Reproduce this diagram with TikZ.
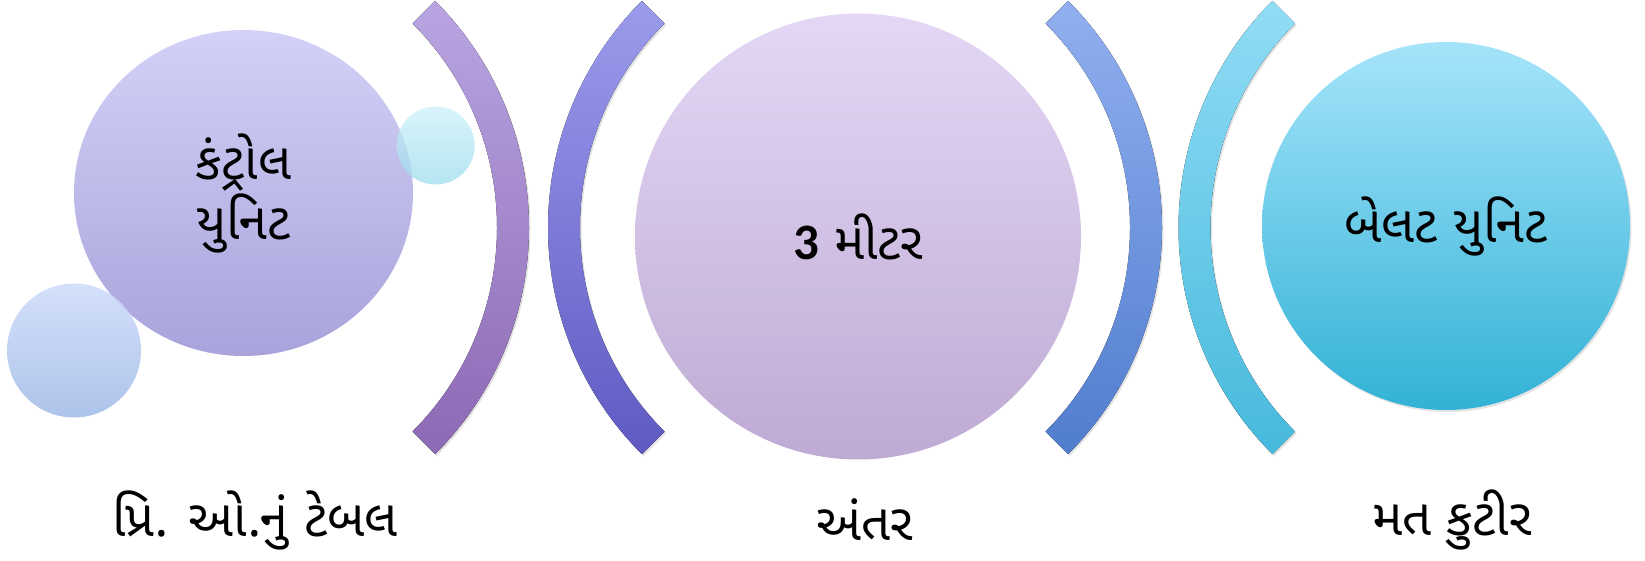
\documentclass[tikz,border=0pt]{standalone}
\usepackage{fontspec}
\usepackage{xcolor}
\usepackage{tikz}
\usetikzlibrary{calc,shadows,shapes.geometric}
\newfontfamily\guj[Script=Gujarati]{Noto Sans Gujarati UI}
\newfontfamily\latn{Carlito}
\definecolor{ctrlT}{HTML}{D3D1F7}
\definecolor{ctrlB}{HTML}{A8A3DB}
\definecolor{dotAT}{HTML}{CDDBFA}
\definecolor{dotAB}{HTML}{9FB9E6}
\definecolor{dotBT}{HTML}{CDF0FA}
\definecolor{dotBB}{HTML}{9CDCEC}
\definecolor{distT}{HTML}{E4D7F5}
\definecolor{distB}{HTML}{BEAAD3}
\definecolor{beltT}{HTML}{A5E4FA}
\definecolor{beltB}{HTML}{32B2D6}
\definecolor{brAT}{HTML}{B9A5E1}
\definecolor{brAB}{HTML}{8C69B4}
\definecolor{brBT}{HTML}{9B9BEB}
\definecolor{brBB}{HTML}{5F5AC3}
\definecolor{brCT}{HTML}{91AFF0}
\definecolor{brCB}{HTML}{507DCD}
\definecolor{brDT}{HTML}{91DCF5}
\definecolor{brDB}{HTML}{46B9DC}

\begin{document}
\begin{tikzpicture}[x=1pt, y=1pt,
  ball/.style={circle, inner sep=0pt, align=center,
               font=\guj\fontsize{51}{60}\selectfont},
  lbl/.style={font=\guj\fontsize{51}{60}\selectfont},
  band/.style={drop shadow={opacity=0.22, shadow xshift=1.5pt, shadow yshift=-2pt}}
]
  \useasboundingbox (0,0) rectangle (1645,560);

  % Control unit and its bubbles
  \node[ball, ellipse, minimum width=339pt, minimum height=326pt,
        top color=ctrlT, bottom color=ctrlB]
    (ctrl) at (243.5,367) {કંટ્રોલ\\યુનિટ};
  \node[ball, minimum size=134pt, top color=dotAT, bottom color=dotAB, opacity=0.85]
    (dotA) at (74,209.5) {};
  \node[ball, minimum size=78pt, top color=dotBT, bottom color=dotBB, opacity=0.75]
    (dotB) at (435.7,414.5) {};

  % Distance
  \node[ball, minimum size=446pt, top color=distT, bottom color=distB]
    (dist) at (858,323.5) {{\latn\bfseries 3} મીટર};

  % Belt unit
  \node[ball, band, minimum size=368pt, top color=beltT, bottom color=beltB]
    (belt) at (1446,334) {બેલટ યુનિટ};

  % Brackets
  \foreach \cx/\a/\ct/\cb in {208.5/0/brAT/brAB, 868.5/180/brBT/brBB,
                              841.5/0/brCT/brCB, 1499/180/brDT/brDB}{
    \fill[band, top color=\ct, bottom color=\cb]
      ($(\cx,332.5)+(\a-45:288.5)$) arc[start angle=\a-45, end angle=\a+45, radius=288.5]
      -- ($(\cx,332.5)+(\a+45:320.5)$) arc[start angle=\a+45, end angle=\a-45, radius=320.5]
      -- cycle;
  }

  % Captions
  \node[lbl] (tbl) at (255,40) {પ્રિ. ઓ.નું ટેબલ};
  \node[lbl] (gap) at (865,40) {અંતર};
  \node[lbl] (booth) at (1452,40) {મત કુટીર};
\end{tikzpicture}
\end{document}
